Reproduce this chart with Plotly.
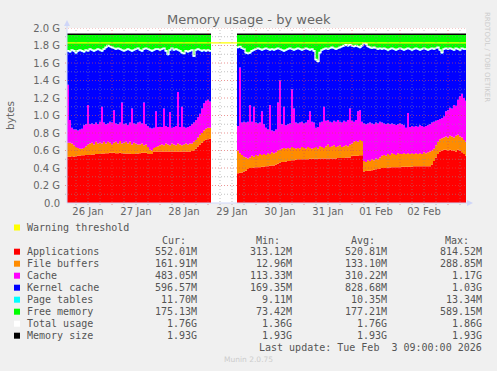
import plotly.graph_objects as go
import pandas as pd

# ---------------- data (values in GiB) ----------------
START = pd.Timestamp("2026-01-26 01:30")
END = pd.Timestamp("2026-02-03 09:00")

hours_seg1 = list(range(0, 72))
hours_seg2 = list(range(85, 200))

applications_seg1 = [
    0.53, 0.53, 0.535, 0.53, 0.535, 0.54, 0.54, 0.545, 0.545, 0.55, 0.55, 0.55,
    0.555, 0.555, 0.56, 0.56, 0.56, 0.565, 0.565, 0.57, 0.57, 0.575, 0.575, 0.575,
    0.57, 0.57, 0.575, 0.57, 0.565, 0.565, 0.565, 0.565, 0.56, 0.56, 0.565, 0.565,
    0.57, 0.575, 0.575, 0.575, 0.56, 0.56, 0.56, 0.59, 0.59, 0.59, 0.59, 0.59,
    0.59, 0.59, 0.59, 0.59, 0.59, 0.59, 0.59, 0.59, 0.59, 0.59, 0.59, 0.59,
    0.59, 0.59, 0.595, 0.60, 0.62, 0.645, 0.67, 0.69, 0.71, 0.725, 0.73, 0.735]
file_buffers_seg1 = [
    0.16, 0.16, 0.145, 0.13, 0.105, 0.09, 0.08, 0.075, 0.085, 0.10, 0.12, 0.13,
    0.135, 0.115, 0.14, 0.12, 0.13, 0.115, 0.135, 0.11, 0.13, 0.115, 0.095, 0.115,
    0.13, 0.11, 0.135, 0.11, 0.125, 0.135, 0.115, 0.135, 0.11, 0.13, 0.115, 0.105,
    0.10, 0.105, 0.085, 0.095, 0.08, 0.05, 0.04, 0.04, 0.05, 0.06, 0.07, 0.08,
    0.07, 0.09, 0.08, 0.07, 0.09, 0.08, 0.07, 0.09, 0.08, 0.07, 0.08, 0.09,
    0.08, 0.09, 0.085, 0.10, 0.10, 0.105, 0.11, 0.11, 0.12, 0.125, 0.13, 0.125]
cache_seg1 = [
    0.66, 0.26, 0.18, 0.18, 0.20, 0.20, 0.22, 0.23, 0.26, 0.25, 0.45, 0.22,
    0.22, 0.23, 0.22, 0.22, 0.24, 0.42, 0.22, 0.22, 0.21, 0.24, 0.25, 0.37,
    0.21, 0.22, 0.21, 0.47, 0.21, 0.21, 0.21, 0.22, 0.41, 0.22, 0.22, 0.25,
    0.26, 0.23, 0.49, 0.23, 0.24, 0.25, 0.25, 0.23, 0.41, 0.22, 0.21, 0.20,
    0.42, 0.20, 0.20, 0.38, 0.18, 0.20, 0.22, 0.59, 0.20, 0.44, 0.20, 0.18,
    0.20, 0.20, 0.22, 0.22, 0.23, 0.23, 0.24, 0.28, 0.31, 0.32, 0.32, 0.30]
kernel_cache_seg1 = [
    0.38, 0.77, 0.88, 0.89, 0.87, 0.90, 0.90, 0.88, 0.83, 0.84, 0.61, 0.85,
    0.83, 0.83, 0.82, 0.85, 0.81, 0.63, 0.83, 0.87, 0.88, 0.85, 0.85, 0.70,
    0.84, 0.86, 0.83, 0.59, 0.83, 0.83, 0.86, 0.82, 0.65, 0.83, 0.85, 0.84,
    0.81, 0.82, 0.60, 0.86, 0.87, 0.88, 0.88, 0.88, 0.70, 0.88, 0.87, 0.88,
    0.68, 0.85, 0.82, 0.70, 0.90, 0.87, 0.87, 0.47, 0.86, 0.61, 0.83, 0.87,
    0.85, 0.85, 0.84, 0.75, 0.79, 0.77, 0.72, 0.65, 0.60, 0.56, 0.56, 0.57]
page_tables_seg1 = [
    0.01, 0.01, 0.01, 0.01, 0.01, 0.01, 0.01, 0.01, 0.01, 0.01, 0.01, 0.01,
    0.01, 0.01, 0.01, 0.01, 0.01, 0.01, 0.01, 0.01, 0.01, 0.01, 0.01, 0.01,
    0.01, 0.01, 0.01, 0.01, 0.01, 0.01, 0.01, 0.01, 0.01, 0.01, 0.01, 0.01,
    0.01, 0.01, 0.01, 0.01, 0.01, 0.01, 0.01, 0.01, 0.01, 0.01, 0.01, 0.01,
    0.01, 0.01, 0.01, 0.01, 0.01, 0.01, 0.01, 0.01, 0.01, 0.01, 0.01, 0.01,
    0.01, 0.01, 0.01, 0.01, 0.01, 0.01, 0.01, 0.01, 0.01, 0.01, 0.01, 0.01]
free_memory_seg1 = [
    0.19, 0.20, 0.18, 0.19, 0.21, 0.19, 0.18, 0.19, 0.20, 0.18, 0.19, 0.17,
    0.18, 0.19, 0.18, 0.17, 0.18, 0.19, 0.17, 0.15, 0.13, 0.14, 0.15, 0.16,
    0.17, 0.16, 0.17, 0.18, 0.19, 0.18, 0.17, 0.18, 0.19, 0.18, 0.17, 0.16,
    0.18, 0.19, 0.17, 0.16, 0.17, 0.18, 0.19, 0.18, 0.17, 0.17, 0.18, 0.17,
    0.16, 0.19, 0.23, 0.18, 0.16, 0.18, 0.17, 0.18, 0.19, 0.21, 0.22, 0.19,
    0.20, 0.19, 0.18, 0.25, 0.18, 0.17, 0.18, 0.19, 0.18, 0.19, 0.18, 0.19]
total_usage_seg1 = [
    1.74, 1.73, 1.75, 1.74, 1.72, 1.74, 1.75, 1.74, 1.73, 1.75, 1.74, 1.76,
    1.75, 1.74, 1.75, 1.76, 1.75, 1.74, 1.76, 1.78, 1.80, 1.79, 1.78, 1.77,
    1.76, 1.77, 1.76, 1.75, 1.74, 1.75, 1.76, 1.75, 1.74, 1.75, 1.76, 1.77,
    1.75, 1.74, 1.76, 1.77, 1.76, 1.75, 1.74, 1.75, 1.76, 1.76, 1.75, 1.76,
    1.77, 1.74, 1.70, 1.75, 1.77, 1.75, 1.76, 1.75, 1.74, 1.72, 1.71, 1.74,
    1.73, 1.74, 1.75, 1.68, 1.75, 1.76, 1.75, 1.74, 1.75, 1.74, 1.75, 1.74]

applications_seg2 = [
    0.34, 0.345, 0.35, 0.36, 0.37, 0.39, 0.40, 0.40, 0.405, 0.41,
    0.41, 0.41, 0.415, 0.415, 0.42, 0.42, 0.425, 0.43, 0.43, 0.44,
    0.45, 0.46, 0.47, 0.47, 0.475, 0.48, 0.48, 0.49, 0.49, 0.495,
    0.50, 0.50, 0.50, 0.50, 0.50, 0.50, 0.505, 0.505, 0.505, 0.505,
    0.505, 0.51, 0.51, 0.51, 0.51, 0.51, 0.51, 0.51, 0.51, 0.51,
    0.515, 0.515, 0.515, 0.515, 0.52, 0.52, 0.52, 0.54, 0.54, 0.54,
    0.54, 0.545, 0.545, 0.36, 0.365, 0.37, 0.37, 0.375, 0.38, 0.385,
    0.39, 0.395, 0.40, 0.40, 0.40, 0.405, 0.405, 0.41, 0.41, 0.41,
    0.41, 0.41, 0.415, 0.415, 0.415, 0.415, 0.415, 0.415, 0.42, 0.42,
    0.42, 0.42, 0.42, 0.42, 0.42, 0.42, 0.42, 0.44, 0.48, 0.52,
    0.56, 0.59, 0.60, 0.61, 0.61, 0.60, 0.61, 0.60, 0.60, 0.59,
    0.61, 0.60, 0.58, 0.56, 0.54]
file_buffers_seg2 = [
    0.26, 0.225, 0.20, 0.17, 0.15, 0.12, 0.12, 0.14, 0.125, 0.14,
    0.13, 0.15, 0.135, 0.145, 0.13, 0.15, 0.135, 0.15, 0.14, 0.14,
    0.15, 0.15, 0.15, 0.16, 0.145, 0.15, 0.14, 0.15, 0.14, 0.125,
    0.13, 0.12, 0.14, 0.13, 0.12, 0.14, 0.125, 0.115, 0.125, 0.135,
    0.115, 0.14, 0.13, 0.12, 0.14, 0.16, 0.13, 0.14, 0.15, 0.13,
    0.135, 0.145, 0.125, 0.135, 0.14, 0.13, 0.15, 0.14, 0.16, 0.17,
    0.16, 0.175, 0.165, 0.12, 0.105, 0.12, 0.11, 0.125, 0.11, 0.125,
    0.11, 0.125, 0.14, 0.15, 0.14, 0.155, 0.145, 0.16, 0.15, 0.14,
    0.16, 0.15, 0.145, 0.155, 0.145, 0.155, 0.145, 0.155, 0.14, 0.15,
    0.14, 0.15, 0.14, 0.16, 0.15, 0.16, 0.17, 0.16, 0.14, 0.14,
    0.14, 0.14, 0.14, 0.14, 0.15, 0.15, 0.16, 0.16, 0.15, 0.18,
    0.17, 0.16, 0.17, 0.16, 0.16]
cache_seg2 = [
    0.28, 0.98, 0.37, 0.40, 0.40, 0.42, 0.60, 0.39, 0.57, 0.37,
    0.37, 0.36, 0.50, 0.34, 0.31, 0.27, 0.56, 0.25, 0.25, 0.26,
    0.55, 0.79, 0.28, 0.47, 0.27, 0.27, 0.29, 0.66, 0.45, 0.30,
    0.28, 0.30, 0.29, 0.28, 0.30, 0.31, 0.42, 0.31, 0.29, 0.22,
    0.25, 0.27, 0.29, 0.47, 0.29, 0.28, 0.29, 0.27, 0.28, 0.29,
    0.30, 0.27, 0.28, 0.29, 0.27, 0.30, 0.41, 0.26, 0.23, 0.24,
    0.35, 0.34, 0.22, 0.43, 0.43, 0.42, 0.44, 0.41, 0.41, 0.41,
    0.41, 0.41, 0.38, 0.36, 0.36, 0.35, 0.35, 0.34, 0.34, 0.34,
    0.33, 0.35, 0.34, 0.32, 0.30, 0.46, 0.31, 0.31, 0.31, 0.31,
    0.31, 0.32, 0.32, 0.29, 0.31, 0.31, 0.31, 0.32, 0.31, 0.28,
    0.25, 0.23, 0.23, 0.24, 0.29, 0.31, 0.32, 0.32, 0.37, 0.34,
    0.40, 0.46, 0.50, 0.48, 0.47]
kernel_cache_seg2 = [
    0.89, 0.23, 0.84, 0.82, 0.79, 0.77, 0.59, 0.80, 0.64, 0.83,
    0.85, 0.83, 0.69, 0.85, 0.90, 0.91, 0.62, 0.92, 0.92, 0.91,
    0.61, 0.35, 0.84, 0.63, 0.85, 0.85, 0.85, 0.45, 0.66, 0.83,
    0.85, 0.83, 0.81, 0.84, 0.84, 0.80, 0.69, 0.82, 0.81, 0.77,
    0.74, 0.79, 0.81, 0.65, 0.82, 0.80, 0.83, 0.85, 0.82, 0.82,
    0.81, 0.84, 0.86, 0.85, 0.87, 0.84, 0.72, 0.85, 0.85, 0.84,
    0.73, 0.71, 0.86, 0.91, 0.91, 0.87, 0.85, 0.85, 0.87, 0.84,
    0.84, 0.83, 0.83, 0.85, 0.85, 0.83, 0.85, 0.85, 0.85, 0.85,
    0.85, 0.85, 0.85, 0.85, 0.89, 0.73, 0.88, 0.86, 0.88, 0.88,
    0.88, 0.85, 0.87, 0.89, 0.87, 0.85, 0.85, 0.84, 0.82, 0.82,
    0.82, 0.78, 0.74, 0.76, 0.71, 0.69, 0.67, 0.67, 0.62, 0.65,
    0.57, 0.52, 0.51, 0.55, 0.58]
page_tables_seg2 = [
    0.01, 0.01, 0.01, 0.01, 0.01, 0.01, 0.01, 0.01, 0.01, 0.01,
    0.01, 0.01, 0.01, 0.01, 0.01, 0.01, 0.01, 0.01, 0.01, 0.01,
    0.01, 0.01, 0.01, 0.01, 0.01, 0.01, 0.01, 0.01, 0.01, 0.01,
    0.01, 0.01, 0.01, 0.01, 0.01, 0.01, 0.01, 0.01, 0.01, 0.01,
    0.01, 0.01, 0.01, 0.01, 0.01, 0.01, 0.01, 0.01, 0.01, 0.01,
    0.01, 0.01, 0.01, 0.01, 0.01, 0.01, 0.01, 0.01, 0.01, 0.01,
    0.01, 0.01, 0.01, 0.01, 0.01, 0.01, 0.01, 0.01, 0.01, 0.01,
    0.01, 0.01, 0.01, 0.01, 0.01, 0.01, 0.01, 0.01, 0.01, 0.01,
    0.01, 0.01, 0.01, 0.01, 0.01, 0.01, 0.01, 0.01, 0.01, 0.01,
    0.01, 0.01, 0.01, 0.01, 0.01, 0.01, 0.01, 0.01, 0.01, 0.01,
    0.01, 0.01, 0.01, 0.01, 0.01, 0.01, 0.01, 0.01, 0.01, 0.01,
    0.01, 0.01, 0.01, 0.01, 0.01]
free_memory_seg2 = [
    0.15, 0.14, 0.16, 0.17, 0.21, 0.22, 0.21, 0.19, 0.18, 0.17,
    0.16, 0.17, 0.18, 0.17, 0.16, 0.17, 0.18, 0.17, 0.18, 0.17,
    0.16, 0.17, 0.18, 0.19, 0.18, 0.17, 0.16, 0.17, 0.18, 0.17,
    0.16, 0.17, 0.18, 0.17, 0.16, 0.17, 0.18, 0.17, 0.19, 0.29,
    0.31, 0.21, 0.18, 0.17, 0.16, 0.17, 0.16, 0.15, 0.16, 0.17,
    0.16, 0.15, 0.14, 0.13, 0.12, 0.13, 0.12, 0.13, 0.14, 0.13,
    0.14, 0.15, 0.13, 0.10, 0.11, 0.14, 0.15, 0.16, 0.15, 0.16,
    0.17, 0.16, 0.17, 0.16, 0.17, 0.18, 0.17, 0.16, 0.17, 0.18,
    0.17, 0.16, 0.17, 0.18, 0.17, 0.16, 0.17, 0.18, 0.17, 0.16,
    0.17, 0.18, 0.17, 0.16, 0.17, 0.18, 0.17, 0.16, 0.17, 0.16,
    0.15, 0.18, 0.21, 0.17, 0.16, 0.17, 0.16, 0.17, 0.18, 0.16,
    0.17, 0.18, 0.16, 0.17, 0.17]
total_usage_seg2 = [
    1.78, 1.79, 1.77, 1.76, 1.72, 1.71, 1.72, 1.74, 1.75, 1.76,
    1.77, 1.76, 1.75, 1.76, 1.77, 1.76, 1.75, 1.76, 1.75, 1.76,
    1.77, 1.76, 1.75, 1.74, 1.75, 1.76, 1.77, 1.76, 1.75, 1.76,
    1.77, 1.76, 1.75, 1.76, 1.77, 1.76, 1.75, 1.76, 1.74, 1.64,
    1.62, 1.72, 1.75, 1.76, 1.77, 1.76, 1.77, 1.78, 1.77, 1.76,
    1.77, 1.78, 1.79, 1.80, 1.81, 1.80, 1.81, 1.80, 1.79, 1.80,
    1.79, 1.78, 1.80, 1.83, 1.82, 1.79, 1.78, 1.77, 1.78, 1.77,
    1.76, 1.77, 1.76, 1.77, 1.76, 1.75, 1.76, 1.77, 1.76, 1.75,
    1.76, 1.77, 1.76, 1.75, 1.76, 1.77, 1.76, 1.75, 1.76, 1.77,
    1.76, 1.75, 1.76, 1.77, 1.76, 1.75, 1.76, 1.77, 1.76, 1.77,
    1.78, 1.75, 1.72, 1.76, 1.77, 1.76, 1.77, 1.76, 1.75, 1.77,
    1.76, 1.75, 1.77, 1.76, 1.76]

memory_size = 1.93
warning_threshold = 1.83

y_tick_values = [0.0, 0.2, 0.4, 0.6, 0.8, 1.0, 1.2, 1.4, 1.6, 1.8, 2.0]
y_tick_labels = ["0.0", "0.2 G", "0.4 G", "0.6 G", "0.8 G", "1.0 G",
                 "1.2 G", "1.4 G", "1.6 G", "1.8 G", "2.0 G"]
x_tick_labels = ["26 Jan", "27 Jan", "28 Jan", "29 Jan", "30 Jan",
                 "31 Jan", "01 Feb", "02 Feb"]

legend_names = ["Applications", "File buffers", "Cache", "Kernel cache",
                "Page tables", "Free memory", "Total usage", "Memory size"]
legend_cur = ["552.01M", "161.91M", "483.05M", "596.57M", "11.70M",
              "175.13M", "1.76G", "1.93G"]
legend_min = ["313.12M", "12.96M", "113.33M", "169.35M", "9.11M",
              "73.42M", "1.36G", "1.93G"]
legend_avg = ["520.81M", "133.10M", "310.22M", "828.68M", "10.35M",
              "177.21M", "1.76G", "1.93G"]
legend_max = ["814.52M", "288.85M", "1.17G", "1.03G", "13.34M",
              "589.15M", "1.86G", "1.93G"]

# ---------------- styles ----------------
COLORS = ["#FF0000", "#FF8C00", "#FF00FF", "#0000FF", "#00FFFF",
          "#00FF00", "#FFFFFF", "#000000"]
WARN_COLOR = "#FFFF00"
W, H = 497, 371
L, R, T, B = 67, 466, 28, 203   # plot area in pixels
FONT = "DejaVu Sans"
MONO = "DejaVu Sans Mono"


def px(x):
    return (x - L) / (R - L)


def py(y):
    return (B - y) / (B - T)


def at(h):
    return START + pd.Timedelta(hours=h)


# stacked series with a zero row across the data gap
gap_h = hours_seg1[-1] + 1
end_h = hours_seg2[-1] + 1
times = [at(h) for h in hours_seg1] + [at(gap_h)] + \
        [at(h) for h in hours_seg2] + [at(end_h)]


def join(a, b):
    return a + [0.0] + b + [b[-1]]


series = [
    (applications_seg1, applications_seg2),
    (file_buffers_seg1, file_buffers_seg2),
    (cache_seg1, cache_seg2),
    (kernel_cache_seg1, kernel_cache_seg2),
    (page_tables_seg1, page_tables_seg2),
    (free_memory_seg1, free_memory_seg2),
]

fig = go.Figure()
for i, (s1, s2) in enumerate(series):
    fig.add_trace(go.Scatter(
        x=times, y=join(s1, s2), stackgroup="mem", mode="lines",
        line=dict(width=0, shape="hv"), fillcolor=COLORS[i],
        name=legend_names[i], hoverinfo="skip"))

# total usage line
tx = [at(h) for h in hours_seg1] + [at(gap_h), at(gap_h)] + \
     [at(h) for h in hours_seg2] + [at(end_h)]
ty = total_usage_seg1 + [total_usage_seg1[-1], None] + \
     total_usage_seg2 + [total_usage_seg2[-1]]
fig.add_trace(go.Scatter(x=tx, y=ty, mode="lines",
                         line=dict(color="#FFFFFF", width=1.3, shape="hv"),
                         hoverinfo="skip"))

# warning threshold
fig.add_trace(go.Scatter(x=[START, END], y=[warning_threshold] * 2,
                         mode="lines", line=dict(color=WARN_COLOR, width=1.3),
                         hoverinfo="skip"))
# memory size
fig.add_trace(go.Scatter(
    x=[at(hours_seg1[0]), at(gap_h), at(gap_h), at(hours_seg2[0]), at(end_h)],
    y=[memory_size, memory_size, None, memory_size, memory_size],
    mode="lines", line=dict(color="#000000", width=1.5), hoverinfo="skip"))

shapes = []
MINOR = "rgba(143,143,143,0.55)"
MAJOR = "rgba(222,79,79,0.6)"
DASH = "1px,2px"
# vertical grid every 6 h, major at midnight
t = pd.Timestamp("2026-01-26 06:00")
while t < END:
    col = MAJOR if t.hour == 0 else MINOR
    shapes.append(dict(type="line", xref="x", yref="paper", x0=t, x1=t,
                       y0=py(B + 2), y1=1, layer="above",
                       line=dict(color=col, width=1, dash=DASH)))
    t += pd.Timedelta(hours=6)
# horizontal grid every 0.1, major every 0.2
for k in range(1, 21):
    v = k / 10
    col = MAJOR if k % 2 == 0 else MINOR
    shapes.append(dict(type="line", xref="paper", yref="y",
                       x0=px(L - 2), x1=1, y0=v, y1=v, layer="above",
                       line=dict(color=col, width=1, dash=DASH)))
# axes with arrows
AX = "#CFD6F8"
shapes.append(dict(type="line", xref="paper", yref="paper", x0=px(L), x1=px(R + 4),
                   y0=0, y1=0, layer="above", line=dict(color=AX, width=1)))
shapes.append(dict(type="line", xref="paper", yref="paper", x0=0, x1=0,
                   y0=0, y1=py(T - 4), layer="above", line=dict(color=AX, width=1)))
shapes.append(dict(type="path", xref="paper", yref="paper", layer="above",
                   path=f"M {px(R+1)} {py(B-3)} L {px(R+7)} {py(B)} L {px(R+1)} {py(B+3)} Z",
                   fillcolor=AX, line=dict(color=AX, width=0)))
shapes.append(dict(type="path", xref="paper", yref="paper", layer="above",
                   path=f"M {px(L-3)} {py(T-2)} L {px(L)} {py(T-8)} L {px(L+3)} {py(T-2)} Z",
                   fillcolor=AX, line=dict(color=AX, width=0)))

annotations = []


def text(x, y, s, size=10, color="#555555", family=MONO, xanchor="left",
         angle=0):
    annotations.append(dict(x=px(x), y=py(y), xref="paper", yref="paper",
                            text=s, showarrow=False, xanchor=xanchor,
                            yanchor="middle", textangle=angle, borderpad=0,
                            font=dict(family=family, size=size, color=color)))


def box(x, y, color):
    shapes.append(dict(type="rect", xref="paper", yref="paper",
                       x0=px(x - 3), x1=px(x + 3), y0=py(y + 3), y1=py(y - 3),
                       fillcolor=color, line=dict(width=0)))


text(248.5, 19, "Memory usage - by week", size=13, color="#666666",
     family=FONT, xanchor="center")
text(10, 116, "bytes", size=10.5, color="#666666", family=FONT,
     xanchor="center", angle=-90)
text(487, 57, "RRDTOOL / TOBI OETIKER", size=7, color="#CCCCCC",
     family=FONT, xanchor="center", angle=90)

box(17, 227.5, WARN_COLOR)
text(26, 227.5, "Warning threshold")
for hx, ht in [(187, "Cur:"), (281, "Min:"), (376, "Avg:"), (470, "Max:")]:
    text(hx, 240, ht, xanchor="right")
for i, name in enumerate(legend_names):
    y = 251.7 + 12 * i
    box(17, y, COLORS[i])
    text(26, y, name)
    text(198, y, legend_cur[i], xanchor="right")
    text(293, y, legend_min[i], xanchor="right")
    text(388, y, legend_avg[i], xanchor="right")
    text(483, y, legend_max[i], xanchor="right")
text(483, 347.7, "Last update: Tue Feb  3 09:00:00 2026".replace(" ", "&nbsp;"),
     xanchor="right")
text(248, 359.7, "Munin 2.0.75", size=7.5, color="#CCCCCC", family=FONT,
     xanchor="center")

fig.update_layout(
    width=W, height=H, showlegend=False,
    margin=dict(l=L, r=W - R, t=T, b=H - B, pad=0),
    paper_bgcolor="#F0F0F0", plot_bgcolor="#FFFFFF",
    shapes=shapes, annotations=annotations,
    xaxis=dict(type="date", range=[START, END], showgrid=False, zeroline=False,
               showline=False, ticks="",
               tickvals=[pd.Timestamp("2026-01-26 12:00") + pd.Timedelta(days=d)
                         for d in range(len(x_tick_labels))],
               ticktext=x_tick_labels, ticklabelstandoff=1,
               tickfont=dict(family=FONT, size=10, color="#666666")),
    yaxis=dict(range=[0, 2.0], showgrid=False, zeroline=False, showline=False,
               ticks="", tickvals=y_tick_values, ticktext=y_tick_labels,
               ticklabelstandoff=6,
               tickfont=dict(family=FONT, size=10, color="#666666")),
)

fig.write_html(
    "out.html",
    config={"displayModeBar": False, "staticPlot": True},
    post_script="document.body.style.margin='0';"
                "document.body.style.overflow='hidden';"
                "document.body.style.background='#F0F0F0';")
